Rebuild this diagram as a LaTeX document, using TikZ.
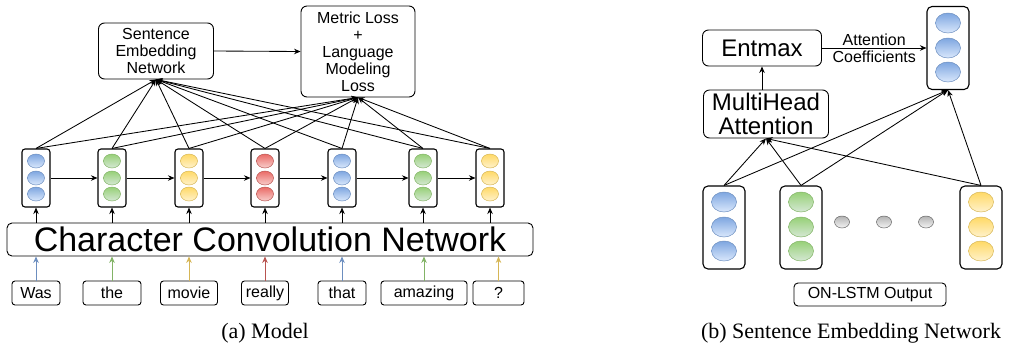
\documentclass[tikz,border=0pt]{standalone}
\usepackage{fontspec}
\setmainfont{Liberation Sans}
\newfontfamily\capfont{Liberation Serif}
\usetikzlibrary{arrows.meta}
\definecolor{bluetop}{HTML}{DAE8FC}
\definecolor{bluebot}{HTML}{7EA6E0}
\definecolor{blueline}{HTML}{6C8EBF}
\definecolor{greentop}{HTML}{D5E8D4}
\definecolor{greenbot}{HTML}{97D077}
\definecolor{greenline}{HTML}{82B366}
\definecolor{yellowtop}{HTML}{FFF2CC}
\definecolor{yellowbot}{HTML}{FFD966}
\definecolor{yellowline}{HTML}{D6B656}
\definecolor{redtop}{HTML}{F8CECC}
\definecolor{redbot}{HTML}{EA6B66}
\definecolor{redline}{HTML}{B85450}
\definecolor{graytop}{HTML}{F5F5F5}
\definecolor{graybot}{HTML}{B3B3B3}
\definecolor{grayline}{HTML}{666666}
\tikzset{
  vecbox/.style={draw, rounded corners=3pt, line width=1.1pt, minimum width=28pt, minimum height=58pt, inner sep=0pt},
  bigvec/.style={vecbox, rounded corners=5pt, minimum width=42pt, minimum height=83pt},
  block/.style={draw, rounded corners=6pt, line width=0.9pt, align=center, inner sep=0pt, font=\fontsize{16}{17}\selectfont},
  word/.style={draw, rounded corners=3pt, line width=0.9pt, minimum height=24pt, inner sep=0pt, font=\fontsize{16}{18}\selectfont},
  bluedot/.style={top color=bluebot, bottom color=bluetop, draw=blueline, line width=0.5pt},
  greendot/.style={top color=greenbot, bottom color=greentop, draw=greenline, line width=0.5pt},
  yellowdot/.style={top color=yellowbot, bottom color=yellowtop, draw=yellowline, line width=0.5pt},
  reddot/.style={top color=redbot, bottom color=redtop, draw=redline, line width=0.5pt},
  graydot/.style={top color=graybot, bottom color=graytop, draw=grayline, line width=0.5pt},
  arr/.style={-{Stealth[length=6.5pt,width=5.5pt]}, line width=0.85pt}
}
\begin{document}
\begin{tikzpicture}[x=1pt, y=-1pt]
        \useasboundingbox (0,0) rectangle (1019,349);
        % (a) model: top boxes
        \node[block, minimum width=115pt, minimum height=56pt] (sen) at (156,51) {Sentence\\Embedding\\Network};
        \node[block, minimum width=114pt, minimum height=91pt] (loss) at (358,51.5) {Metric Loss\\+\\Language\\Modeling\\Loss};
        \draw[arr] (sen.east) -- (loss.west);
        % (a) model: word vectors
        \node[vecbox] (v1) at (36,178) {};
        \node[vecbox] (v2) at (112,178) {};
        \node[vecbox] (v3) at (189,178) {};
        \node[vecbox] (v4) at (265,178) {};
        \node[vecbox] (v5) at (342,178) {};
        \node[vecbox] (v6) at (423,178) {};
        \node[vecbox] (v7) at (490,178) {};
        \path[bluedot] (36,161) ellipse [x radius=8.5pt, y radius=7pt];
        \path[bluedot] (36,178) ellipse [x radius=8.5pt, y radius=7pt];
        \path[bluedot] (36,194) ellipse [x radius=8.5pt, y radius=7pt];
        \path[greendot] (112,161) ellipse [x radius=8.5pt, y radius=7pt];
        \path[greendot] (112,178) ellipse [x radius=8.5pt, y radius=7pt];
        \path[greendot] (112,194) ellipse [x radius=8.5pt, y radius=7pt];
        \path[yellowdot] (189,161) ellipse [x radius=8.5pt, y radius=7pt];
        \path[yellowdot] (189,178) ellipse [x radius=8.5pt, y radius=7pt];
        \path[yellowdot] (189,194) ellipse [x radius=8.5pt, y radius=7pt];
        \path[reddot] (265,161) ellipse [x radius=8.5pt, y radius=7pt];
        \path[reddot] (265,178) ellipse [x radius=8.5pt, y radius=7pt];
        \path[reddot] (265,194) ellipse [x radius=8.5pt, y radius=7pt];
        \path[bluedot] (342,161) ellipse [x radius=8.5pt, y radius=7pt];
        \path[bluedot] (342,178) ellipse [x radius=8.5pt, y radius=7pt];
        \path[bluedot] (342,194) ellipse [x radius=8.5pt, y radius=7pt];
        \path[greendot] (423,161) ellipse [x radius=8.5pt, y radius=7pt];
        \path[greendot] (423,178) ellipse [x radius=8.5pt, y radius=7pt];
        \path[greendot] (423,194) ellipse [x radius=8.5pt, y radius=7pt];
        \path[yellowdot] (490,161) ellipse [x radius=8.5pt, y radius=7pt];
        \path[yellowdot] (490,178) ellipse [x radius=8.5pt, y radius=7pt];
        \path[yellowdot] (490,194) ellipse [x radius=8.5pt, y radius=7pt];
        \draw[arr] (v1.east) -- (v2.west);
        \draw[arr] (v2.east) -- (v3.west);
        \draw[arr] (v3.east) -- (v4.west);
        \draw[arr] (v4.east) -- (v5.west);
        \draw[arr] (v5.east) -- (v6.west);
        \draw[arr] (v6.east) -- (v7.west);
        % (a) model: vectors up to the top boxes
        \draw[arr] (v1.north) -- (sen.south);
        \draw[arr] (v2.north) -- (sen.south);
        \draw[arr] (v3.north) -- (sen.south);
        \draw[arr] (v4.north) -- (sen.south);
        \draw[arr] (v5.north) -- (sen.south);
        \draw[arr] (v6.north) -- (sen.south);
        \draw[arr] (v7.north) -- (sen.south);
        \draw[arr] (v1.north) -- (loss.south);
        \draw[arr] (v2.north) -- (loss.south);
        \draw[arr] (v3.north) -- (loss.south);
        \draw[arr] (v4.north) -- (loss.south);
        \draw[arr] (v5.north) -- (loss.south);
        \draw[arr] (v6.north) -- (loss.south);
        \draw[arr] (v7.north) -- (loss.south);
        % (a) model: character convolution
        \node[block, rounded corners=5pt, minimum width=526pt, minimum height=33pt, font=\fontsize{34}{34}\selectfont] (ccn) at (270,239.5) {Character Convolution Network};
        \draw[arr] (v1 |- ccn.north) -- (v1.south);
        \draw[arr] (v2 |- ccn.north) -- (v2.south);
        \draw[arr] (v3 |- ccn.north) -- (v3.south);
        \draw[arr] (v4 |- ccn.north) -- (v4.south);
        \draw[arr] (v5 |- ccn.north) -- (v5.south);
        \draw[arr] (v6 |- ccn.north) -- (v6.south);
        \draw[arr] (v7 |- ccn.north) -- (v7.south);
        % (a) model: words
        \node[word, minimum width=48pt] (w1) at (36,293) {Was};
        \node[word, minimum width=58pt] (w2) at (112,293) {the};
        \node[word, minimum width=57pt] (w3) at (189,293) {movie};
        \node[word, minimum width=47pt] (w4) at (265,293) {really};
        \node[word, minimum width=48pt] (w5) at (342,293) {that};
        \node[word, minimum width=86pt] (w6) at (424,293) {amazing};
        \node[word, minimum width=51pt] (w7) at (498.5,293) {?};
        \draw[arr, draw=blueline] (w1.north) -- (w1 |- ccn.south);
        \draw[arr, draw=greenline] (w2.north) -- (w2 |- ccn.south);
        \draw[arr, draw=yellowline] (w3.north) -- (w3 |- ccn.south);
        \draw[arr, draw=redline] (w4.north) -- (w4 |- ccn.south);
        \draw[arr, draw=blueline] (w5.north) -- (w5 |- ccn.south);
        \draw[arr, draw=greenline] (w6.north) -- (w6 |- ccn.south);
        \draw[arr, draw=yellowline] (w7.north) -- (w7 |- ccn.south);
        \node[font=\capfont\fontsize{22}{22}\selectfont] (capa) at (265,333) {(a) Model};
        % (b) sentence embedding network
        \node[block, minimum width=119pt, minimum height=36pt, font=\fontsize{24}{24}\selectfont] (entmax) at (762,48) {Entmax};
        \node[block, minimum width=125pt, minimum height=48pt, font=\fontsize{24}{24}\selectfont] (mha) at (766,114) {MultiHead\\Attention};
        \node[bigvec] (sent) at (948,48) {};
        \path[bluedot] (948,23) ellipse [x radius=12.5pt, y radius=10pt];
        \path[bluedot] (948,48) ellipse [x radius=12.5pt, y radius=10pt];
        \path[bluedot] (948,72) ellipse [x radius=12.5pt, y radius=10pt];
        \draw[arr] (mha.north -| entmax) -- (entmax.south);
        \draw[arr] (entmax.east) -- node[above=-1pt, font=\fontsize{16}{16}\selectfont] {Attention} node[below=-1pt, font=\fontsize{16}{16}\selectfont] {Coefficients} (sent.west);
        % (b) ON-LSTM output vectors
        \node[bigvec] (h1) at (724,227.5) {};
        \node[bigvec] (h2) at (801,227.5) {};
        \node[bigvec] (hn) at (981,227.5) {};
        \path[bluedot] (724,202) ellipse [x radius=12.5pt, y radius=10pt];
        \path[bluedot] (724,227) ellipse [x radius=12.5pt, y radius=10pt];
        \path[bluedot] (724,251) ellipse [x radius=12.5pt, y radius=10pt];
        \path[greendot] (801,202) ellipse [x radius=12.5pt, y radius=10pt];
        \path[greendot] (801,227) ellipse [x radius=12.5pt, y radius=10pt];
        \path[greendot] (801,251) ellipse [x radius=12.5pt, y radius=10pt];
        \path[yellowdot] (981,202) ellipse [x radius=12.5pt, y radius=10pt];
        \path[yellowdot] (981,227) ellipse [x radius=12.5pt, y radius=10pt];
        \path[yellowdot] (981,251) ellipse [x radius=12.5pt, y radius=10pt];
        \path[graydot] (842,222) ellipse [x radius=7.5pt, y radius=6pt];
        \path[graydot] (884,222) ellipse [x radius=7.5pt, y radius=6pt];
        \path[graydot] (926,222) ellipse [x radius=7.5pt, y radius=6pt];
        \draw[arr] (h1.north) -- (mha.south);
        \draw[arr] (h2.north) -- (mha.south);
        \draw[arr] (hn.north) -- (mha.south);
        \draw[arr] (h1.north) -- (sent.south);
        \draw[arr] (h2.north) -- (sent.south);
        \draw[arr] (hn.north) -- (sent.south);
        \node[word, rounded corners=4pt, minimum width=152pt, minimum height=23pt] (lstm) at (870,294.5) {ON-LSTM Output};
        \node[font=\capfont\fontsize{22}{22}\selectfont] (capb) at (851,333) {(b) Sentence Embedding Network};
      \end{tikzpicture}
\end{document}
